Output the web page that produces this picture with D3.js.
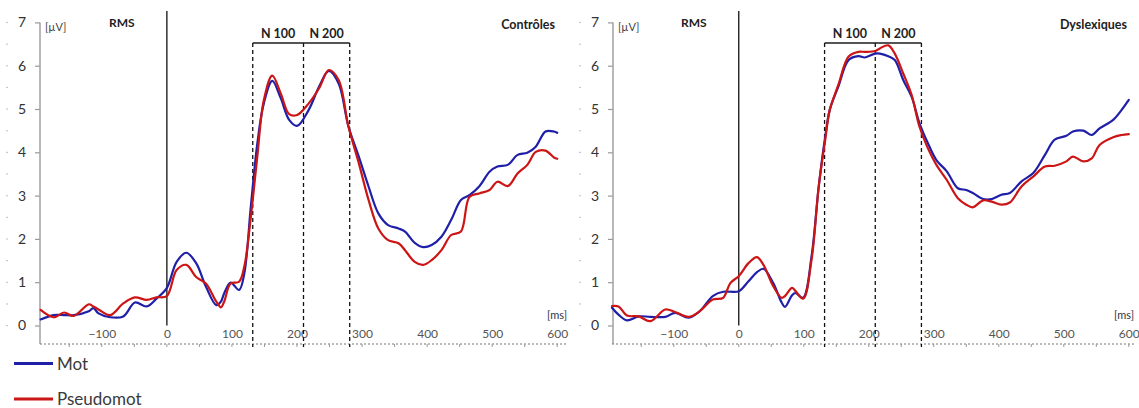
<!DOCTYPE html>
<html>
<head>
<meta charset="utf-8">
<script src="https://cdnjs.cloudflare.com/ajax/libs/d3/7.8.5/d3.min.js"></script>
<style>
  html, body { margin: 0; padding: 0; background: #fff; }
  svg { display: block; font-family: Lato, "Open Sans", sans-serif; }
</style>
</head>
<body>
<svg id="chart" width="1139" height="408"></svg>
<script>
// ---------- DATA ----------
const seriesNames = ["Mot", "Pseudomot"];
const panelTitles = ["Contrôles", "Dyslexiques"];
const yTickValues = [0, 1, 2, 3, 4, 5, 6, 7];
const xTickValues = [-100, 0, 100, 200, 300, 400, 500, 600];
const windowBounds = [132, 210, 281];          // N100 / N200 window edges (ms)
const windowLabels = ["N 100", "N 200"];

// Contrôles
const ctrlTime = [-194,-174,-158,-143,-120,-113,-105,-87,-67,-49,-31,-16,0,15,30,45,60,76,83,88,98,111,119,129,139,149,162,175,188,200,218,234,249,264,279,295,310,325,340,356,366,381,394,407,422,437,452,465,480,496,508,524,539,554,567,582,595,600];
const ctrlMot = [0.14,0.24,0.24,0.24,0.33,0.40,0.28,0.19,0.21,0.53,0.44,0.62,0.87,1.47,1.68,1.44,0.90,0.47,0.55,0.74,0.99,0.82,1.20,2.74,4.20,5.13,5.65,5.25,4.75,4.61,4.98,5.52,5.88,5.59,4.60,3.90,3.21,2.59,2.32,2.24,2.17,1.91,1.81,1.86,2.05,2.44,2.90,3.01,3.21,3.55,3.67,3.71,3.94,3.99,4.13,4.48,4.48,4.45];
const ctrlPseudo = [0.36,0.19,0.30,0.22,0.49,0.44,0.37,0.24,0.51,0.65,0.59,0.65,0.68,1.28,1.40,1.12,0.97,0.55,0.42,0.55,0.97,1.01,1.36,2.50,3.90,5.20,5.77,5.36,4.88,4.86,5.13,5.48,5.90,5.67,4.60,3.75,2.90,2.24,1.97,1.90,1.74,1.47,1.40,1.51,1.74,2.09,2.17,2.97,3.05,3.13,3.32,3.22,3.51,3.71,4.01,4.04,3.88,3.85];

// Dyslexiques
const dysTime = [-195,-185,-172,-154,-136,-113,-98,-77,-60,-40,-24,-13,0,15,28,38,53,66,71,82,87,99,112,123,133,140,153,169,184,194,210,217,230,240,253,266,278,291,304,320,337,350,360,376,389,404,417,435,453,471,486,504,514,530,543,555,576,589,600];
const dysMot = [0.41,0.25,0.12,0.21,0.20,0.20,0.29,0.18,0.33,0.68,0.78,0.78,0.79,1.02,1.23,1.31,0.98,0.53,0.43,0.70,0.75,0.64,1.60,3.21,4.36,4.98,5.51,6.13,6.22,6.19,6.28,6.28,6.22,6.13,5.67,5.28,4.67,4.21,3.82,3.56,3.17,3.13,3.06,2.92,2.92,3.02,3.06,3.33,3.52,3.94,4.29,4.38,4.48,4.50,4.40,4.55,4.75,4.98,5.21];
const dysPseudo = [0.45,0.44,0.23,0.21,0.10,0.37,0.31,0.20,0.33,0.60,0.64,0.98,1.14,1.44,1.58,1.40,0.91,0.64,0.68,0.87,0.80,0.62,1.52,3.21,4.29,4.98,5.55,6.21,6.32,6.32,6.34,6.40,6.47,6.28,5.82,5.32,4.59,4.09,3.71,3.36,2.94,2.79,2.73,2.89,2.86,2.79,2.84,3.21,3.44,3.67,3.69,3.79,3.90,3.79,3.86,4.17,4.35,4.40,4.42];

// ---------- DRAW ----------
const svg = d3.select("#chart");
const colors = ["#1f1fa8", "#cc1515"];

const panels = [
  { title: panelTitles[0], time: ctrlTime, series: [ctrlMot, ctrlPseudo],
    axisX: 40, xRange: [40, 567], xDomain: [-195, 615], titleX: 555 },
  { title: panelTitles[1], time: dysTime, series: [dysMot, dysPseudo],
    axisX: 613, xRange: [612, 1134], xDomain: [-195, 608], titleX: 1127 }
];

const yTop = 22.4, yZero = 325.5, xAxisY = 344;
const y = d3.scaleLinear().domain([0, 7]).range([yZero, yTop]);

panels.forEach(p => {
  const g = svg.append("g");
  const x = d3.scaleLinear().domain(p.xDomain).range(p.xRange);

  // faint minor marks far left
  const minor = d3.range(0, 7.01, 0.5);
  g.selectAll(".mdot").data(minor).join("rect")
    .attr("x", p.axisX - 34).attr("y", d => y(d) - 0.5)
    .attr("width", 2).attr("height", 1.2).attr("fill", "#c8c8c8");

  // y axis
  const yAxis = d3.axisLeft(y).tickValues(yTickValues).tickFormat(d3.format("d"))
    .tickSizeInner(5).tickSizeOuter(0).tickPadding(9);
  const ya = g.append("g").attr("transform", `translate(${p.axisX},0)`).call(yAxis);
  ya.select(".domain").remove();
  ya.selectAll(".tick line").attr("stroke", "#999").attr("stroke-width", 1.2);
  ya.selectAll(".tick text").attr("font-size", 14).attr("fill", "#333")
    .attr("font-family", "Lato, sans-serif");
  g.append("line").attr("x1", p.axisX).attr("x2", p.axisX)
    .attr("y1", yTop).attr("y2", xAxisY).attr("stroke", "#a0a0a0").attr("stroke-width", 1.5);

  // x axis: dotted baseline with small ticks, labels above
  g.append("line").attr("x1", p.xRange[0]).attr("x2", p.xRange[1])
    .attr("y1", xAxisY).attr("y2", xAxisY)
    .attr("stroke", "#777").attr("stroke-width", 1.2).attr("stroke-dasharray", "2,2");
  const minorX = d3.range(-150, 601, 50);
  g.selectAll(".xt").data(minorX).join("line")
    .attr("x1", d => x(d)).attr("x2", d => x(d))
    .attr("y1", xAxisY).attr("y2", xAxisY + 3)
    .attr("stroke", "#999").attr("stroke-width", 1);
  const xAxis = d3.axisTop(x).tickValues(xTickValues).tickFormat(d3.format("d"))
    .tickSizeInner(0).tickSizeOuter(0).tickPadding(6);
  const xa = g.append("g").attr("transform", `translate(0,${xAxisY})`).call(xAxis);
  xa.select(".domain").remove();
  xa.selectAll(".tick text").attr("font-size", 12).attr("fill", "#555")
    .attr("font-family", "Lato, sans-serif");

  // unit labels
  g.append("text").attr("x", p.axisX + 5).attr("y", 31).attr("font-size", 11)
    .attr("fill", "#444").text("[µV]");
  g.append("text").attr("x", p.xRange[1]).attr("y", 319).attr("text-anchor", "end")
    .attr("font-size", 11).attr("fill", "#334").text("[ms]");

  // zero line
  g.append("line").attr("x1", x(0)).attr("x2", x(0)).attr("y1", 11).attr("y2", y(0))
    .attr("stroke", "#111").attr("stroke-width", 1.3);
  g.append("text").attr("x", x(0) - 45).attr("y", 27).attr("text-anchor", "middle")
    .attr("font-size", 12).attr("font-weight", "bold").attr("fill", "#222").text("RMS");

  // title
  g.append("text").attr("x", p.titleX).attr("y", 29).attr("text-anchor", "end")
    .attr("font-size", 12.5).attr("font-weight", "bold").attr("fill", "#222").text(p.title);

  // N100 / N200 windows
  const topY = 43;
  g.append("line").attr("x1", x(windowBounds[0])).attr("x2", x(windowBounds[2]))
    .attr("y1", topY).attr("y2", topY).attr("stroke", "#555").attr("stroke-width", 2);
  windowBounds.forEach(b => {
    g.append("line").attr("x1", x(b)).attr("x2", x(b)).attr("y1", topY).attr("y2", xAxisY + 3)
      .attr("stroke", "#111").attr("stroke-width", 1.3).attr("stroke-dasharray", "4,3");
  });
  windowLabels.forEach((lab, i) => {
    g.append("text").attr("x", (x(windowBounds[i]) + x(windowBounds[i + 1])) / 2)
      .attr("y", 38).attr("text-anchor", "middle").attr("font-size", 12.5)
      .attr("font-weight", "bold").attr("fill", "#222").text(lab);
  });

  // curves
  const line = d3.line().x((d, i) => x(p.time[i])).y(d => y(d))
    .curve(d3.curveCatmullRom.alpha(0.5));
  p.series.forEach((s, k) => {
    g.append("path").datum(s).attr("d", line).attr("fill", "none")
      .attr("stroke", colors[k]).attr("stroke-width", 2.2)
      .attr("stroke-linejoin", "round").attr("stroke-linecap", "round");
  });
});

// legend
const lg = svg.append("g");
const legendY = [363.5, 399];
seriesNames.forEach((n, i) => {
  lg.append("line").attr("x1", 14).attr("x2", 53).attr("y1", legendY[i]).attr("y2", legendY[i])
    .attr("stroke", colors[i]).attr("stroke-width", 3);
  lg.append("text").attr("x", 57).attr("y", legendY[i] + 6).attr("font-size", 17)
    .attr("fill", "#3a3a3a").text(n);
});
</script>
</body>
</html>
